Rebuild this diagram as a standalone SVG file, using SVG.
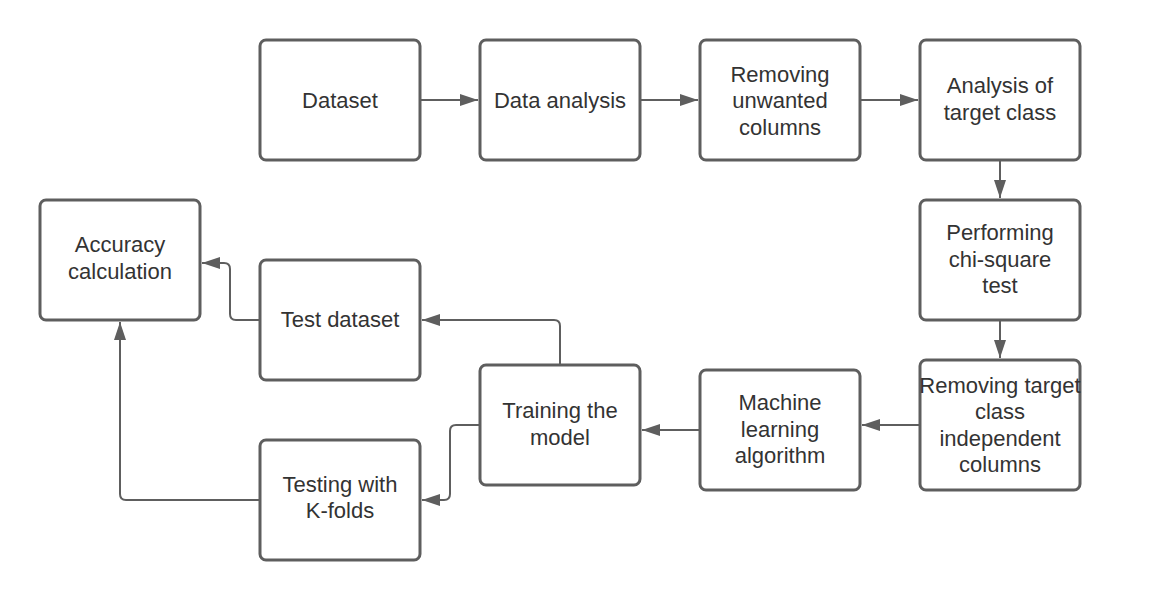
<svg xmlns="http://www.w3.org/2000/svg" width="1160" height="600" viewBox="0 0 1160 600">
<defs>
<marker id="arr" viewBox="0 0 18 12" refX="18" refY="6" markerWidth="18" markerHeight="12" markerUnits="userSpaceOnUse" orient="auto">
<path d="M0,0 L18,6 L0,12 z" fill="#5e5e5e"/>
</marker>
<style>
.box{fill:#ffffff;stroke:#5e5e5e;stroke-width:3}
.lbl{font-family:"Liberation Sans",Arial,sans-serif;font-size:22px;fill:#333333;text-anchor:middle}
.con{fill:none;stroke:#5e5e5e;stroke-width:2;marker-end:url(#arr)}
</style>
</defs>
<rect width="1160" height="600" fill="#ffffff"/>
<g id="connectors">
<path class="con" d="M420,100 H478"/>
<path class="con" d="M640,100 H698"/>
<path class="con" d="M860,100 H918"/>
<path class="con" d="M1000,160 V198"/>
<path class="con" d="M1000,320 V358"/>
<path class="con" d="M920,425 H862"/>
<path class="con" d="M700,430 H642"/>
<path class="con" d="M560,365 V326 Q560,320 554,320 H422"/>
<path class="con" d="M480,425 H456 Q450,425 450,431 V494 Q450,500 444,500 H422"/>
<path class="con" d="M260,320 H236 Q230,320 230,314 V269 Q230,263 224,263 H202"/>
<path class="con" d="M260,500 H126 Q120,500 120,494 V322"/>
</g>
<g id="n-dataset"><rect class="box" x="260" y="40" width="160" height="120" rx="6"/><text class="lbl" x="340" y="108">Dataset</text></g>
<g id="n-data-analysis"><rect class="box" x="480" y="40" width="160" height="120" rx="6"/><text class="lbl" x="560" y="108">Data analysis</text></g>
<g id="n-removing-unwanted"><rect class="box" x="700" y="40" width="160" height="120" rx="6"/><text class="lbl" x="780" y="81.5">Removing<tspan x="780" dy="26.5">unwanted</tspan><tspan x="780" dy="26.5">columns</tspan></text></g>
<g id="n-analysis-target"><rect class="box" x="920" y="40" width="160" height="120" rx="6"/><text class="lbl" x="1000" y="93">Analysis of<tspan x="1000" dy="26.5">target class</tspan></text></g>
<g id="n-chi-square"><rect class="box" x="920" y="200" width="160" height="120" rx="6"/><text class="lbl" x="1000" y="240">Performing<tspan x="1000" dy="26.5">chi-square</tspan><tspan x="1000" dy="26.5">test</tspan></text></g>
<g id="n-removing-target"><rect class="box" x="920" y="360" width="160" height="130" rx="6"/><text class="lbl" x="1000" y="392.5">Removing target<tspan x="1000" dy="26.5">class</tspan><tspan x="1000" dy="26.5">independent</tspan><tspan x="1000" dy="26.5">columns</tspan></text></g>
<g id="n-ml"><rect class="box" x="700" y="370" width="160" height="120" rx="6"/><text class="lbl" x="780" y="410">Machine<tspan x="780" dy="26.5">learning</tspan><tspan x="780" dy="26.5">algorithm</tspan></text></g>
<g id="n-training"><rect class="box" x="480" y="365" width="160" height="120" rx="6"/><text class="lbl" x="560" y="418">Training the<tspan x="560" dy="26.5">model</tspan></text></g>
<g id="n-test-dataset"><rect class="box" x="260" y="260" width="160" height="120" rx="6"/><text class="lbl" x="340" y="327">Test dataset</text></g>
<g id="n-kfolds"><rect class="box" x="260" y="440" width="160" height="120" rx="6"/><text class="lbl" x="340" y="491.5">Testing with<tspan x="340" dy="26.5">K-folds</tspan></text></g>
<g id="n-accuracy"><rect class="box" x="40" y="200" width="160" height="120" rx="6"/><text class="lbl" x="120" y="252">Accuracy<tspan x="120" dy="26.5">calculation</tspan></text></g>
</svg>
